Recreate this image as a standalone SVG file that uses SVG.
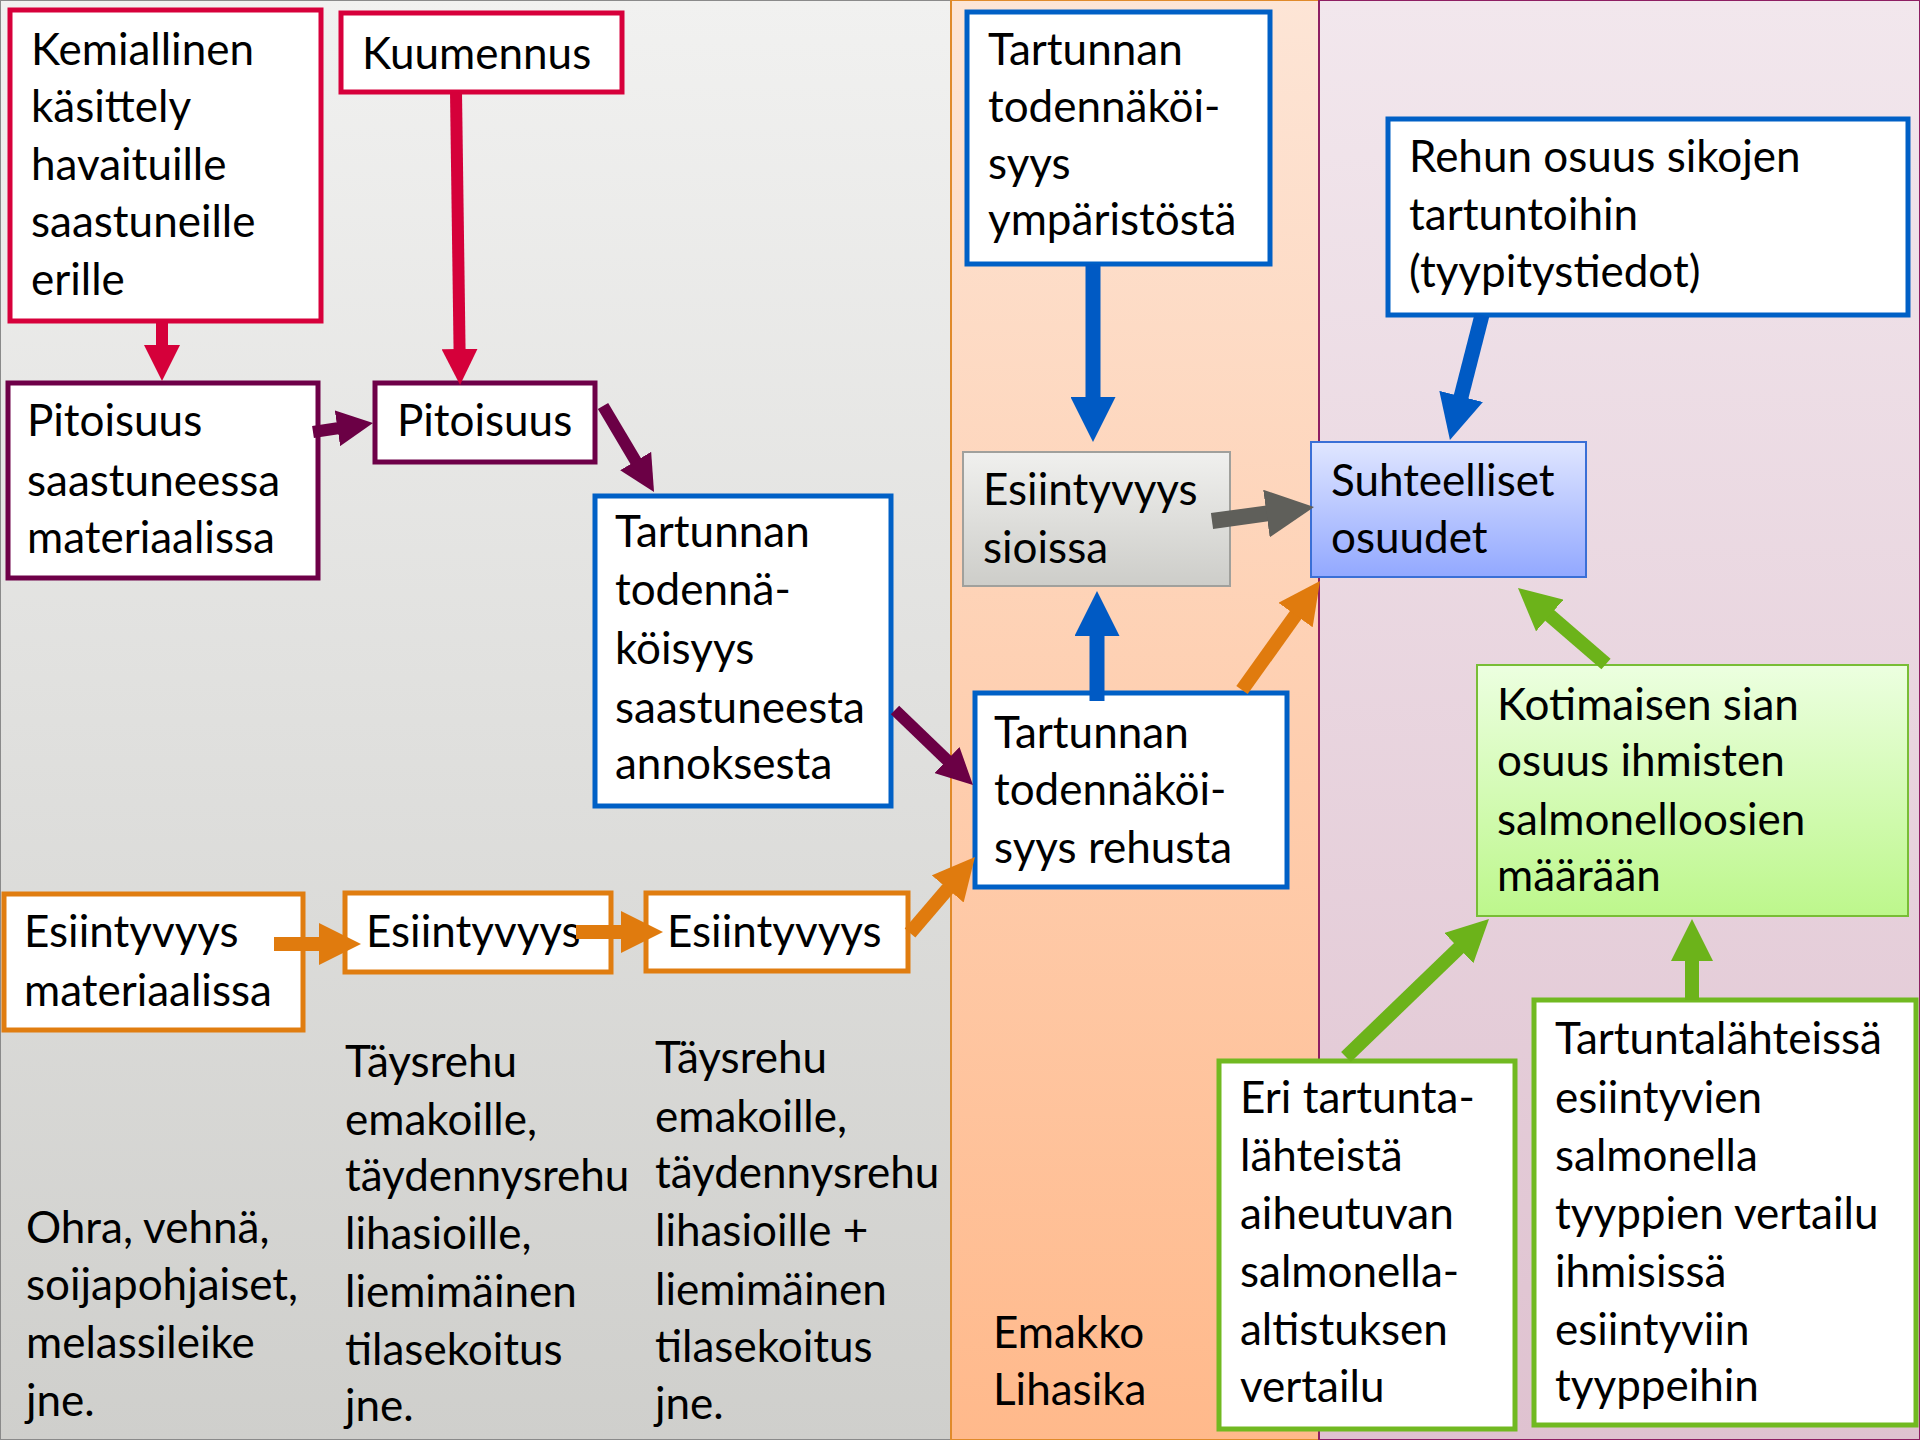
<svg xmlns="http://www.w3.org/2000/svg" width="1920" height="1440" viewBox="0 0 1920 1440">
<defs>
<linearGradient id="gLeft" x1="0" y1="0" x2="0" y2="1"><stop offset="0" stop-color="#f1f1f0"/><stop offset="1" stop-color="#cfcfcc"/></linearGradient>
<linearGradient id="gMid" x1="0" y1="0" x2="0" y2="1"><stop offset="0" stop-color="#fde5d6"/><stop offset="1" stop-color="#ffb98b"/></linearGradient>
<linearGradient id="gRight" x1="0" y1="0" x2="0" y2="1"><stop offset="0" stop-color="#f2e7ed"/><stop offset="1" stop-color="#dfc2d0"/></linearGradient>
<linearGradient id="gGray" x1="0" y1="0" x2="0" y2="1"><stop offset="0" stop-color="#f0f0ee"/><stop offset="1" stop-color="#cdcdc9"/></linearGradient>
<linearGradient id="gBlue" x1="0" y1="0" x2="0" y2="1"><stop offset="0" stop-color="#e0e6ff"/><stop offset="1" stop-color="#92a8ff"/></linearGradient>
<linearGradient id="gGreen" x1="0" y1="0" x2="0" y2="1"><stop offset="0" stop-color="#ecffe0"/><stop offset="1" stop-color="#bdf78c"/></linearGradient>
<marker id="mRed" viewBox="0 0 10 10" refX="1" refY="5" markerWidth="3" markerHeight="3" orient="auto"><path d="M0,0 L10,5 L0,10 z" fill="#d5003a"/></marker>
<marker id="mPurple" viewBox="0 0 10 10" refX="1" refY="5" markerWidth="3" markerHeight="3" orient="auto"><path d="M0,0 L10,5 L0,10 z" fill="#6b0045"/></marker>
<marker id="mBlue" viewBox="0 0 10 10" refX="1" refY="5" markerWidth="3" markerHeight="3" orient="auto"><path d="M0,0 L10,5 L0,10 z" fill="#005ac4"/></marker>
<marker id="mOrange" viewBox="0 0 10 10" refX="1" refY="5" markerWidth="3" markerHeight="3" orient="auto"><path d="M0,0 L10,5 L0,10 z" fill="#e07b0e"/></marker>
<marker id="mGray" viewBox="0 0 10 10" refX="1" refY="5" markerWidth="3" markerHeight="3" orient="auto"><path d="M0,0 L10,5 L0,10 z" fill="#5f5f5a"/></marker>
<marker id="mGreen" viewBox="0 0 10 10" refX="1" refY="5" markerWidth="3" markerHeight="3" orient="auto"><path d="M0,0 L10,5 L0,10 z" fill="#6cb31a"/></marker>
</defs>
<style>
text{font-family:Lato,"Liberation Sans",sans-serif;font-size:44px;fill:#000}
.box{fill:#fff;stroke-width:5}
.red{stroke:#d7003b}
.pur{stroke:#6e0048}
.blu{stroke:#0060c6}
.ora{stroke:#e07d10}
.grn{stroke:#71b921}
.c line{fill:none}
.cr{stroke:#d5003a;stroke-width:12;marker-end:url(#mRed)}
.cp{stroke:#6b0045;stroke-width:12;marker-end:url(#mPurple)}
.cb{stroke:#005ac4;stroke-width:15;marker-end:url(#mBlue)}
.co{stroke:#e07b0e;stroke-width:14;marker-end:url(#mOrange)}
.cg{stroke:#5f5f5a;stroke-width:16;marker-end:url(#mGray)}
.cn{stroke:#6cb31a;stroke-width:14;marker-end:url(#mGreen)}
</style>
<g id="panels">
<rect x="0" y="0" width="951" height="1440" fill="url(#gLeft)" stroke="#8a8a8a" stroke-width="2"/>
<rect x="951" y="0" width="368" height="1440" fill="url(#gMid)" stroke="#e08a2a" stroke-width="2"/>
<rect x="1319" y="0" width="601" height="1440" fill="url(#gRight)" stroke="#8e1f63" stroke-width="2"/>
</g>
<g id="n_kemiallinen"><rect class="box red" x="10" y="10" width="311" height="311"/>
<text x="31"><tspan x="31" y="65">Kemiallinen</tspan><tspan x="31" y="122">käsittely</tspan><tspan x="31" y="180">havaituille</tspan><tspan x="31" y="237">saastuneille</tspan><tspan x="31" y="295">erille</tspan></text></g>
<g id="n_kuumennus"><rect class="box red" x="341" y="13" width="281" height="79"/>
<text x="362" y="69">Kuumennus</text></g>
<g id="n_pitoisuus1"><rect class="box pur" x="8" y="383" width="310" height="195"/>
<text><tspan x="27" y="436">Pitoisuus</tspan><tspan x="27" y="496">saastuneessa</tspan><tspan x="27" y="553">materiaalissa</tspan></text></g>
<g id="n_pitoisuus2"><rect class="box pur" x="375" y="383" width="220" height="79"/>
<text x="397" y="436">Pitoisuus</text></g>
<g id="n_tartunnan_annos"><rect class="box blu" x="595" y="496" width="296" height="310"/>
<text><tspan x="615" y="547">Tartunnan</tspan><tspan x="615" y="605">todennä-</tspan><tspan x="615" y="664">köisyys</tspan><tspan x="615" y="723">saastuneesta</tspan><tspan x="615" y="779">annoksesta</tspan></text></g>
<g id="n_esiintyvyys1"><rect class="box ora" x="4" y="894" width="299" height="136"/>
<text><tspan x="24" y="947">Esiintyvyys</tspan><tspan x="24" y="1006">materiaalissa</tspan></text></g>
<g id="n_esiintyvyys2"><rect class="box ora" x="345" y="893" width="266" height="79"/>
<text x="366" y="947">Esiintyvyys</text></g>
<g id="n_esiintyvyys3"><rect class="box ora" x="646" y="893" width="262" height="78"/>
<text x="667" y="947">Esiintyvyys</text></g>
<g id="t_col1"><text><tspan x="26" y="1243">Ohra, vehnä,</tspan><tspan x="26" y="1300">soijapohjaiset,</tspan><tspan x="26" y="1358">melassileike</tspan><tspan x="26" y="1416">jne.</tspan></text></g>
<g id="t_col2"><text><tspan x="345" y="1077">Täysrehu</tspan><tspan x="345" y="1135">emakoille,</tspan><tspan x="345" y="1191">täydennysrehu</tspan><tspan x="345" y="1249">lihasioille,</tspan><tspan x="345" y="1307">liemimäinen</tspan><tspan x="345" y="1365">tilasekoitus</tspan><tspan x="345" y="1421">jne.</tspan></text></g>
<g id="t_col3"><text><tspan x="655" y="1073">Täysrehu</tspan><tspan x="655" y="1132">emakoille,</tspan><tspan x="655" y="1188">täydennysrehu</tspan><tspan x="655" y="1246">lihasioille +</tspan><tspan x="655" y="1305">liemimäinen</tspan><tspan x="655" y="1362">tilasekoitus</tspan><tspan x="655" y="1419">jne.</tspan></text></g>
<g id="n_ymparisto"><rect class="box blu" x="967" y="12" width="303" height="252"/>
<text><tspan x="988" y="65">Tartunnan</tspan><tspan x="988" y="122">todennäköi-</tspan><tspan x="988" y="179">syys</tspan><tspan x="988" y="235">ympäristöstä</tspan></text></g>
<g id="n_sioissa"><rect x="963" y="452" width="267" height="134" fill="url(#gGray)" stroke="#a0a09c" stroke-width="2"/>
<text><tspan x="983" y="505">Esiintyvyys</tspan><tspan x="983" y="563">sioissa</tspan></text></g>
<g id="n_rehusta"><rect class="box blu" x="975" y="693" width="312" height="194"/>
<text><tspan x="994" y="748">Tartunnan</tspan><tspan x="994" y="805">todennäköi-</tspan><tspan x="994" y="863">syys rehusta</tspan></text></g>
<g id="t_emakko"><text><tspan x="993" y="1348">Emakko</tspan><tspan x="993" y="1405">Lihasika</tspan></text></g>
<g id="n_suhteelliset"><rect x="1311" y="442" width="275" height="135" fill="url(#gBlue)" stroke="#3a6fd6" stroke-width="2"/>
<text><tspan x="1331" y="496">Suhteelliset</tspan><tspan x="1331" y="553">osuudet</tspan></text></g>
<g id="n_rehun"><rect class="box blu" x="1388" y="119" width="520" height="196"/>
<text><tspan x="1409" y="172">Rehun osuus sikojen</tspan><tspan x="1409" y="230">tartuntoihin</tspan><tspan x="1409" y="287">(tyypitystiedot)</tspan></text></g>
<g id="n_kotimaisen"><rect x="1477" y="665" width="431" height="251" fill="url(#gGreen)" stroke="#78bd35" stroke-width="2"/>
<text><tspan x="1497" y="720">Kotimaisen sian</tspan><tspan x="1497" y="776">osuus ihmisten</tspan><tspan x="1497" y="835">salmonelloosien</tspan><tspan x="1497" y="891">määrään</tspan></text></g>
<g id="n_eri"><rect class="box grn" x="1219" y="1061" width="296" height="368"/>
<text><tspan x="1240" y="1113">Eri tartunta-</tspan><tspan x="1240" y="1171">lähteistä</tspan><tspan x="1240" y="1229">aiheutuvan</tspan><tspan x="1240" y="1287">salmonella-</tspan><tspan x="1240" y="1345">altistuksen</tspan><tspan x="1240" y="1402">vertailu</tspan></text></g>
<g id="n_tartuntalahteissa"><rect class="box grn" x="1534" y="1000" width="382" height="425"/>
<text><tspan x="1555" y="1054">Tartuntalähteissä</tspan><tspan x="1555" y="1113">esiintyvien</tspan><tspan x="1555" y="1171">salmonella</tspan><tspan x="1555" y="1229">tyyppien vertailu</tspan><tspan x="1555" y="1287">ihmisissä</tspan><tspan x="1555" y="1345">esiintyviin</tspan><tspan x="1555" y="1401">tyyppeihin</tspan></text></g>
<g id="connectors" class="c">
<line class="cr" x1="162" y1="321" x2="162" y2="348.6"/>
<line class="cr" x1="456" y1="92" x2="459.6" y2="352.6"/>
<line class="cp" x1="313" y1="432" x2="341" y2="427.8"/>
<line class="cp" x1="603" y1="406" x2="637.5" y2="464.1"/>
<line class="cp" x1="895" y1="710" x2="949.6" y2="762.5"/>
<line class="cb" x1="1093" y1="264" x2="1093" y2="401.5"/>
<line class="cb" x1="1097" y1="701" x2="1097" y2="631.5"/>
<line class="cb" x1="1482" y1="315" x2="1460" y2="400.8"/>
<line class="cg" x1="1212" y1="521" x2="1271.2" y2="512.9"/>
<line class="co" x1="1242" y1="690" x2="1298" y2="611.7"/>
<line class="co" x1="910" y1="933" x2="950.4" y2="885.7"/>
<line class="co" x1="274" y1="944" x2="323.2" y2="944"/>
<line class="co" x1="576" y1="932" x2="625.2" y2="932"/>
<line class="cn" x1="1606" y1="664" x2="1546.6" y2="612.7"/>
<line class="cn" x1="1346" y1="1057" x2="1461.8" y2="945.2"/>
<line class="cn" x1="1692" y1="1000" x2="1692" y2="956.8"/>
</g>
</svg>
